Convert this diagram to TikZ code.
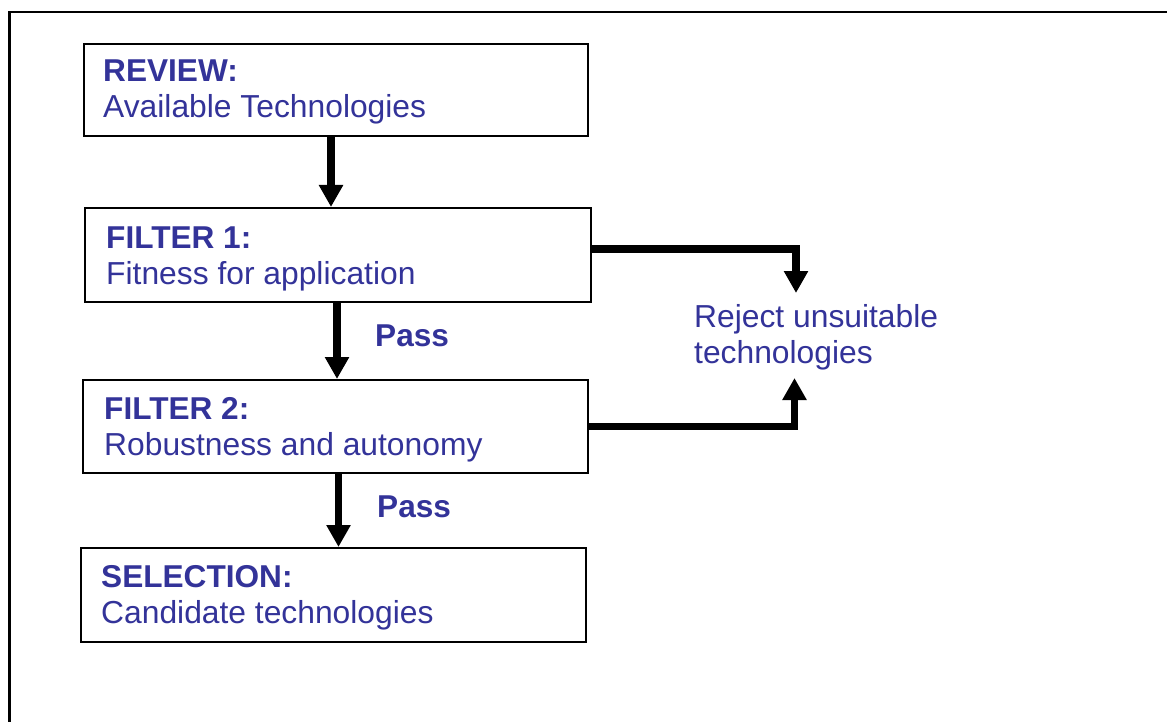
\documentclass[tikz,border=0pt]{standalone}
\usepackage{fontspec}
\setmainfont{Liberation Sans}
\usetikzlibrary{arrows.meta}
\definecolor{txtblue}{RGB}{51,51,153}
\begin{document}
\begin{tikzpicture}[x=1pt,y=-1pt,
  box/.style={draw=black, line width=2pt, rectangle, inner sep=0pt, anchor=north west},
  head/.style={anchor=base west, inner sep=0pt, text=txtblue, font=\fontsize{31.6}{36}\selectfont\bfseries},
  sub/.style={anchor=base west, inner sep=0pt, text=txtblue, font=\fontsize{31.8}{36}\selectfont},
  arr/.style={draw=black, line width=7.5pt, line join=miter, -{Triangle[width=23pt,length=22pt]}},
  frame/.style={draw=black, line width=2.5pt}]
\useasboundingbox (0,0) rectangle (1167,722);
\draw[frame] (1175,12) -- (9.5,12) -- (9.5,730);
% boxes
\node[box, minimum width=504.5pt, minimum height=92.8pt] (review) at (82.5,42.7) {};
\node[box, minimum width=506pt, minimum height=94pt] (filter1) at (84,207) {};
\node[box, minimum width=505pt, minimum height=92.5pt] (filter2) at (82,379) {};
\node[box, minimum width=505.5pt, minimum height=94pt] (selection) at (79.5,547) {};
% texts
\node[head] (reviewH) at (103,82) {REVIEW:};
\node[sub] (reviewS) at (103,118) {Available Technologies};
\node[head] (filter1H) at (106,248) {FILTER 1:};
\node[sub] (filter1S) at (106,284) {Fitness for application};
\node[head] (filter2H) at (104,419) {FILTER 2:};
\node[sub] (filter2S) at (104,455) {Robustness and autonomy};
\node[head] (selectionH) at (101,587) {SELECTION:};
\node[sub] (selectionS) at (101,623) {Candidate technologies};
\node[sub] (rejA) at (694,327) {Reject unsuitable};
\node[sub] (rejB) at (694,363) {technologies};
\node[head] (pass1) at (375,346) {Pass};
\node[head] (pass2) at (377,517) {Pass};
% connectors
\coordinate (r1) at (796,293);
\coordinate (r2) at (794.5,378);
\draw[arr] ([xshift=-4.75pt]review.south) -- ([xshift=-4.75pt]review.south |- filter1.north);
\draw[arr] ([xshift=-1pt]filter1.south) -- ([xshift=-1pt]filter1.south |- filter2.north);
\draw[arr] ([xshift=3pt]filter2.south) -- ([xshift=3pt]filter2.south |- selection.north);
\draw[arr] ([yshift=6pt]filter1.east) -| (r1);
\draw[arr] (filter2.east) -| (r2);
\end{tikzpicture}
\end{document}
